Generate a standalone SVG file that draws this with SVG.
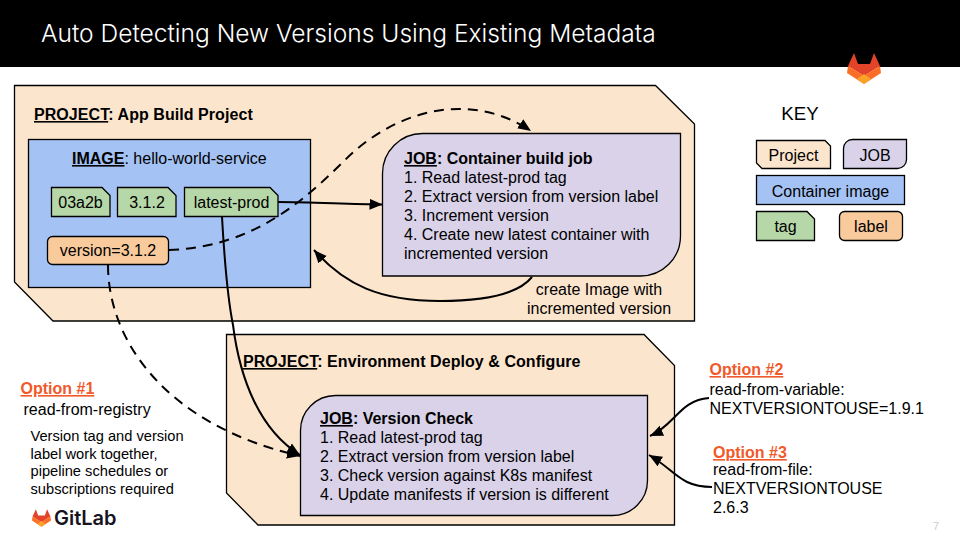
<svg xmlns="http://www.w3.org/2000/svg" width="960" height="540" viewBox="0 0 960 540">
<style>
text{font-family:"Liberation Sans",Arial,sans-serif;font-size:16px;fill:#000}
.s{stroke:#000;stroke-width:1.3}
.project{fill:#fce5cd}.job{fill:#d9d2e9}.image{fill:#a4c2f4}.tag{fill:#b6d7a8}.label{fill:#f9cb9c}
.m{text-anchor:middle}
.b{font-weight:700}.u{text-decoration:underline}
.w{letter-spacing:.06px}
.opt{font-weight:700;text-decoration:underline;fill:#f1592a}
.small{font-size:14.67px}
.c{fill:none;stroke:#000;stroke-width:2}
.d{stroke-dasharray:10 7}
</style>
<defs>
<marker id="arrow" markerUnits="userSpaceOnUse" markerWidth="14" markerHeight="12" viewBox="0 0 14 12" refX="13" refY="6" orient="auto"><path d="M0 0.5L13 6L0 11.5Z" fill="#000"/></marker>
<symbol id="fox" viewBox="0 0 34 31">
<path d="M7 0L11 11H23L27 0L33 13L17 23L1 13Z" fill="#e24329"/>
<path d="M1 13L17 23L33 13L34 20L17 31L0 20Z" fill="#fc6d26"/>
<path d="M10 26L17 21L24 26L17 31Z" fill="#fca326"/>
</symbol>
</defs>
<rect width="960" height="540" fill="#fff"/>
<g id="header"><rect width="960" height="67" fill="#000"/>
<text x="41" y="42" style="font-family:Inter,sans-serif;font-size:24.56px;font-weight:300;fill:#fff">Auto Detecting New Versions Using Existing Metadata</text></g>
<use id="logo-top" href="#fox" x="847" y="53" width="34" height="31"/>

<g id="project-app"><path class="project s" d="M14.5 85.5H655.5L694.5 124V321H53L14.5 282Z"/>
<text x="34" y="120" class="b w"><tspan class="u">PROJECT</tspan>: App Build Project</text></g>
<g id="image"><rect class="image s" x="28.5" y="139.5" width="282" height="148"/>
<text x="72" y="164"><tspan class="b u">IMAGE</tspan>: hello-world-service</text></g>
<g id="tag-03a2b"><path class="tag s" d="M51.5 187.5H102L110 195.5V216.5H51.5Z"/><text class="m" x="80.5" y="208">03a2b</text></g>
<g id="tag-312"><path class="tag s" d="M117.5 187.5H168L176 195.5V216.5H117.5Z"/><text class="m" x="147" y="208">3.1.2</text></g>
<g id="tag-latest"><path class="tag s" d="M184.5 187.5H270L278 195.5V216.5H184.5Z"/><text class="m" x="231.5" y="208">latest-prod</text></g>
<g id="label-version"><rect class="label s" x="47.5" y="236.5" width="121" height="28" rx="5"/><text class="m" x="108" y="256">version=3.1.2</text></g>
<g id="job-build"><path class="job s" d="M422.5 133.5H680.5V236A40 40 0 0 1 640.5 276H382.5V173.5A40 40 0 0 1 422.5 133.5Z"/>
<text x="404" y="164" class="b"><tspan class="u">JOB</tspan>: Container build job</text>
<text x="404" y="183">1. Read latest-prod tag</text>
<text x="404" y="202">2. Extract version from version label</text>
<text x="404" y="221">3. Increment version</text>
<text x="404" y="240">4. Create new latest container with</text>
<text x="404" y="259">incremented version</text></g>
<g id="note-create"><text class="m" x="599" y="295">create Image with</text><text class="m" x="599" y="314">incremented version</text></g>

<g id="project-env"><path class="project s" d="M226.5 334.5H644L674.5 365.5V525H258L226.5 493Z"/>
<text x="243" y="367" class="b w"><tspan class="u">PROJECT</tspan>: Environment Deploy &amp; Configure</text></g>
<g id="job-check"><path class="job s" d="M335.5 395.5H647.5V480.5A35 35 0 0 1 612.5 515.5H300.5V430.5A35 35 0 0 1 335.5 395.5Z"/>
<text x="320" y="424" class="b"><tspan class="u">JOB</tspan>: Version Check</text>
<text x="320" y="443">1. Read latest-prod tag</text>
<text x="320" y="462">2. Extract version from version label</text>
<text x="320" y="481">3. Check version against K8s manifest</text>
<text x="320" y="500">4. Update manifests if version is different</text></g>

<g id="connectors">
<path class="c" marker-end="url(#arrow)" d="M278 202C310 202 345 204 382.5 204.5"/>
<path class="c d" marker-end="url(#arrow)" d="M169 250C250 247 300 205 345 160C395 110 470 90 531 131"/>
<path class="c" marker-end="url(#arrow)" d="M222 217C225 270 228 300 233 325C240 380 260 430 300 455"/>
<path class="c d" marker-end="url(#arrow)" d="M108 265C108 340 165 425 300 456"/>
<path class="c" marker-end="url(#arrow)" d="M532 277C515 298 470 301 440 301C380 301 345 285 314 250"/>
<path class="c" marker-end="url(#arrow)" d="M709 398C680 400 675 425 650 436"/>
<path class="c" marker-end="url(#arrow)" d="M712 487C680 487 675 470 649 455"/>
</g>

<g id="option-1"><text x="20.5" y="394" class="opt">Option #1</text><text x="23.5" y="415">read-from-registry</text>
<text x="30.5" y="441" class="small">Version tag and version</text>
<text x="30.5" y="459" class="small">label work together,</text>
<text x="30.5" y="476" class="small">pipeline schedules or</text>
<text x="30.5" y="494" class="small">subscriptions required</text></g>
<g id="logo-gitlab"><use href="#fox" x="32" y="509" width="19" height="18"/>
<text x="54" y="525" style="font-family:Inter,sans-serif;font-size:20px;font-weight:600;fill:#171321">GitLab</text></g>
<g id="option-2"><text x="709.5" y="375" class="opt">Option #2</text><text x="709.5" y="395">read-from-variable:</text><text x="709.5" y="414">NEXTVERSIONTOUSE=1.9.1</text></g>
<g id="option-3"><text x="713" y="458" class="opt">Option #3</text><text x="713" y="475">read-from-file:</text><text x="713" y="494">NEXTVERSIONTOUSE</text><text x="713" y="513">2.6.3</text></g>

<g id="key"><text class="m" x="800" y="120" style="font-size:18.67px">KEY</text>
<path class="project s" d="M756.5 140.5H825L830.5 146V168.5H762L756.5 163Z"/><text class="m" x="793.5" y="161">Project</text>
<path class="job s" d="M852.5 139.5H906.5V159.5A9 9 0 0 1 897.5 168.5H843.5V148.5A9 9 0 0 1 852.5 139.5Z"/><text class="m" x="875" y="161">JOB</text>
<rect class="image s" x="756.5" y="175.5" width="148" height="29"/><text class="m" x="830.5" y="197">Container image</text>
<path class="tag s" d="M756.5 211.5H807L814.5 219V240.5H756.5Z"/><text class="m" x="785.5" y="232">tag</text>
<rect class="label s" x="839.5" y="211.5" width="63" height="29" rx="5"/><text class="m" x="871" y="232">label</text></g>
<text id="page" x="933" y="530" style="font-size:11px;fill:#ccc">7</text>
</svg>
